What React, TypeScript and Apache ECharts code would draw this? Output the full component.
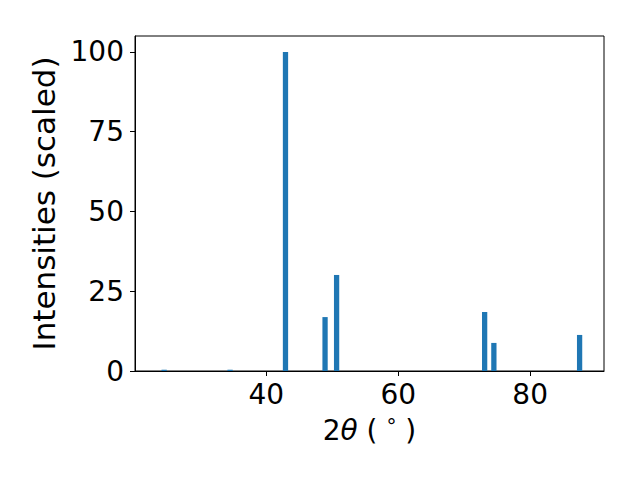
import React, { useEffect, useRef } from "react";
import * as echarts from "echarts";

const twoTheta = [24.5, 34.5, 42.9, 48.9, 50.65, 73.1, 74.5, 87.5];
const intensity = [0.4, 0.4, 100, 16.9, 30.1, 18.5, 8.8, 11.3];
const xTicks = [40, 60, 80];
const yTicks = [0, 25, 50, 75, 100];
const barWidthUnits = 0.8;

export default function App() {
  const ref = useRef<HTMLDivElement>(null);
  useEffect(() => {
    if (!ref.current) return;
    const chart = echarts.init(ref.current, null, { renderer: "svg" });
    const font = "DejaVu Sans";
    chart.setOption({
      animation: false,
      textStyle: { fontFamily: font },
      grid: {
        left: 135,
        right: 36,
        top: 36,
        bottom: 109,
        show: true,
        borderColor: "#000",
        borderWidth: 1,
      },
      xAxis: {
        type: "value",
        min: 20.08,
        max: 91.2,
        name: "2{i|θ} ( {s|°} )",
        nameLocation: "middle",
        nameGap: 45,
        nameTextStyle: {
          fontSize: 28,
          color: "#000",
          fontFamily: font,
          rich: {
            i: { fontSize: 28, fontStyle: "italic", fontFamily: font, color: "#000" },
            s: { fontSize: 20, fontFamily: font, color: "#000", verticalAlign: "top", padding: [0, 0, 8, 0] },
          },
        },
        axisLine: { show: true, lineStyle: { color: "#000", width: 1 } },
        axisTick: { show: true, length: 5, lineStyle: { color: "#000" }, customValues: xTicks },
        axisLabel: { fontSize: 28, color: "#000", margin: 9, fontFamily: font, customValues: xTicks },
        splitLine: { show: false },
      },
      yAxis: {
        type: "value",
        min: 0,
        max: 105,
        name: "Intensities (scaled)",
        nameLocation: "middle",
        nameGap: 76,
        nameTextStyle: { fontSize: 31, color: "#000", fontFamily: font },
        axisLine: { show: true, lineStyle: { color: "#000", width: 1 } },
        axisTick: { show: true, length: 5, lineStyle: { color: "#000" }, customValues: yTicks },
        axisLabel: { fontSize: 28, color: "#000", margin: 11, fontFamily: font, customValues: yTicks },
        splitLine: { show: false },
      },
      series: [
        {
          type: "custom",
          data: twoTheta.map((x, i) => [x, intensity[i]]),
          renderItem: (params: any, api: any) => {
            const x = api.value(0);
            const y = api.value(1);
            const p0 = api.coord([x - barWidthUnits / 2, y]);
            const p1 = api.coord([x + barWidthUnits / 2, 0]);
            return {
              type: "rect",
              shape: { x: p0[0], y: p0[1], width: p1[0] - p0[0], height: p1[1] - p0[1] },
              style: { fill: "#1f77b4" },
            };
          },
        },
      ],
    });
    return () => chart.dispose();
  }, []);
  return <div ref={ref} style={{ width: 640, height: 480, position: "absolute", left: 0, top: 0 }} />;
}
